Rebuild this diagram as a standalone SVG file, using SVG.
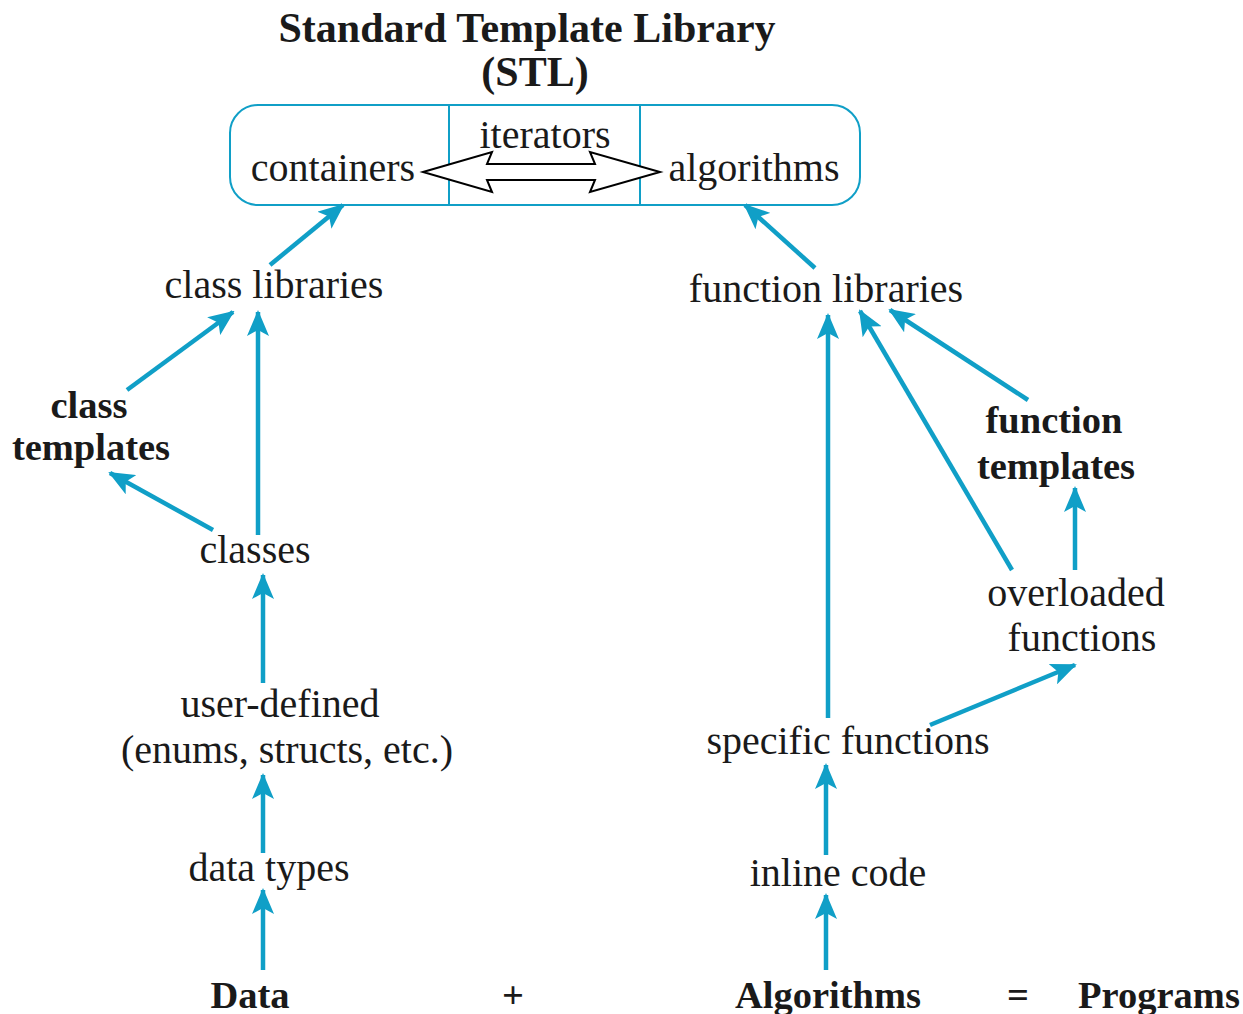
<svg xmlns="http://www.w3.org/2000/svg" width="1243" height="1014" viewBox="0 0 1243 1014">
<style>
  text { font-family: "Liberation Serif", "Times New Roman", serif; fill: #1a1a1a; }
  .r { font-size: 40px; text-anchor: middle; }
  .b { font-size: 38.5px; font-weight: bold; text-anchor: middle; }
  .t { font-size: 42px; font-weight: bold; text-anchor: middle; }
  .c { stroke: #109fc7; stroke-width: 4.5; fill: none; marker-end: url(#ah); }
  .box { stroke: #109fc7; stroke-width: 2; fill: none; }
</style>
<defs>
  <marker id="ah" markerUnits="userSpaceOnUse" markerWidth="26" markerHeight="22" viewBox="0 0 26 22" refX="24" refY="11" orient="auto">
    <path d="M0,0 L26,11 L0,22 L6,11 z" fill="#109fc7"/>
  </marker>
</defs>
<rect width="1243" height="1014" fill="#ffffff"/>

<g id="title">
  <text class="t" x="527" y="42">Standard Template Library</text>
  <text class="t" x="535" y="86">(STL)</text>
</g>

<g id="stl-box">
  <rect class="box" x="230" y="105" width="630" height="100" rx="28" ry="28"/>
  <line class="box" x1="449" y1="105" x2="449" y2="205"/>
  <line class="box" x1="640" y1="105" x2="640" y2="205"/>
</g>
<g id="containers"><text class="r" x="333" y="181">containers</text></g>
<g id="iterators">
  <text class="r" x="545" y="148">iterators</text>
  <path d="M423,172 L492,152 L487,164 L595,164 L590,152 L660,172 L590,192 L595,180 L487,180 L492,192 Z" fill="#ffffff" stroke="#000000" stroke-width="2"/>
</g>
<g id="algorithms"><text class="r" x="754" y="181">algorithms</text></g>

<g id="class-libraries"><text class="r" x="274" y="298">class libraries</text></g>
<g id="class-templates">
  <text class="b" x="89" y="418">class</text>
  <text class="b" x="91" y="460">templates</text>
</g>
<g id="classes"><text class="r" x="255" y="563">classes</text></g>
<g id="user-defined">
  <text class="r" x="280" y="717">user-defined</text>
  <text class="r" x="287" y="763">(enums, structs, etc.)</text>
</g>
<g id="data-types"><text class="r" x="269" y="881">data types</text></g>
<g id="data"><text class="b" x="250" y="1008">Data</text></g>
<g id="plus"><text class="b" x="513" y="1008">+</text></g>
<g id="algorithms-bottom"><text class="b" x="828" y="1008">Algorithms</text></g>
<g id="equals"><text class="b" x="1018" y="1008">=</text></g>
<g id="programs"><text class="b" x="1159" y="1008">Programs</text></g>

<g id="function-libraries"><text class="r" x="826" y="302">function libraries</text></g>
<g id="function-templates">
  <text class="b" x="1054" y="433">function</text>
  <text class="b" x="1056" y="479">templates</text>
</g>
<g id="overloaded-functions">
  <text class="r" x="1076" y="606">overloaded</text>
  <text class="r" x="1082" y="651">functions</text>
</g>
<g id="specific-functions"><text class="r" x="848" y="754">specific functions</text></g>
<g id="inline-code"><text class="r" x="838" y="886">inline code</text></g>

<g id="connectors">
  <line class="c" x1="270" y1="265" x2="343" y2="205"/>
  <line class="c" x1="127" y1="390" x2="233" y2="312"/>
  <line class="c" x1="258" y1="535" x2="258" y2="312"/>
  <line class="c" x1="213" y1="530" x2="110" y2="473"/>
  <line class="c" x1="263" y1="683" x2="263" y2="575"/>
  <line class="c" x1="263" y1="853" x2="263" y2="775"/>
  <line class="c" x1="263" y1="970" x2="263" y2="890"/>
  <line class="c" x1="815" y1="268" x2="745" y2="205"/>
  <line class="c" x1="828" y1="718" x2="828" y2="315"/>
  <line class="c" x1="1012" y1="570" x2="860" y2="311"/>
  <line class="c" x1="1028" y1="400" x2="890" y2="310"/>
  <line class="c" x1="1075" y1="570" x2="1075" y2="488"/>
  <line class="c" x1="930" y1="725" x2="1075" y2="665"/>
  <line class="c" x1="826" y1="855" x2="826" y2="765"/>
  <line class="c" x1="826" y1="970" x2="826" y2="895"/>
</g>
</svg>
